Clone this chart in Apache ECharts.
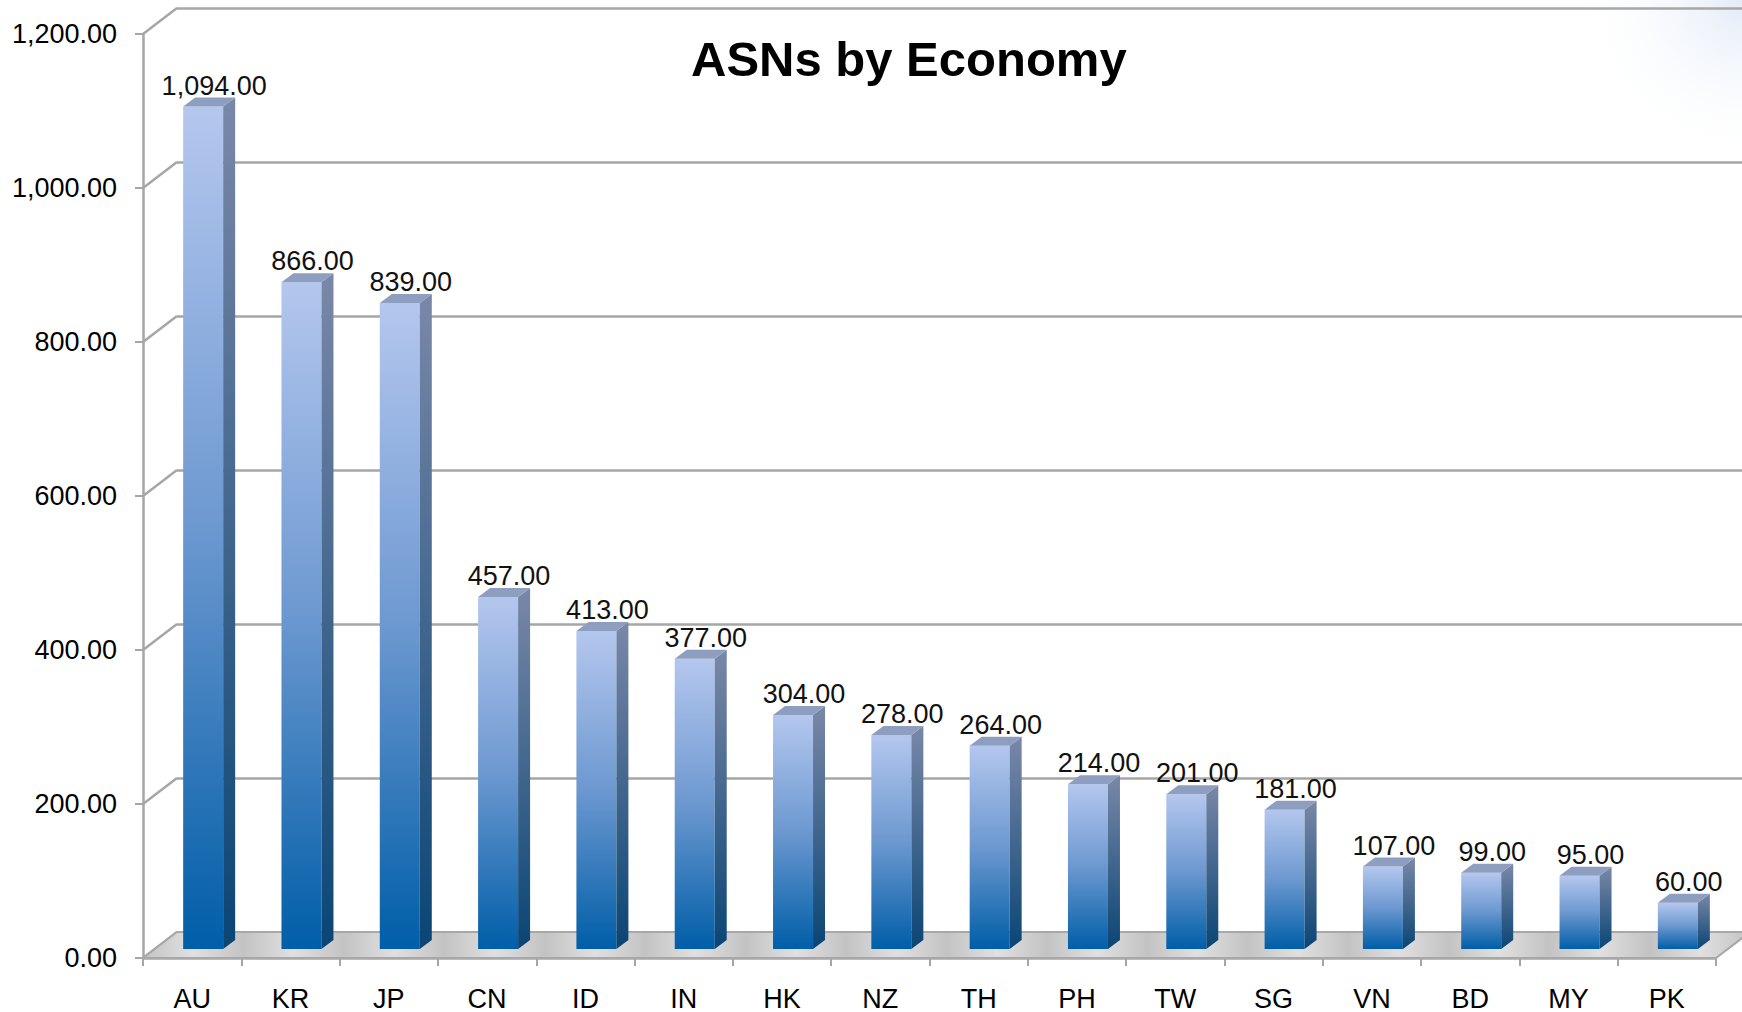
<!DOCTYPE html>
<html>
<head>
<meta charset="utf-8">
<title>ASNs by Economy</title>
<script src="https://cdn.jsdelivr.net/npm/echarts@6/dist/echarts.min.js"></script>
<style>
  html, body { margin: 0; padding: 0; background: #fff; }
  #chart { width: 1742px; height: 1012px; }
</style>
</head>
<body>
<div id="chart"></div>
<script>
var economies = ["AU", "KR", "JP", "CN", "ID", "IN", "HK", "NZ", "TH", "PH", "TW", "SG", "VN", "BD", "MY", "PK"];
var asnCounts = [1094, 866, 839, 457, 413, 377, 304, 278, 264, 214, 201, 181, 107, 99, 95, 60];
var yTicks = [0, 200, 400, 600, 800, 1000, 1200];

var FONT = "'Liberation Sans', Arial, sans-serif";
var GRID_GRAY = "#a6a6a6";
// 3D look: back wall offset, bar position inside the floor, bar depth
var WALL_DX = 34, WALL_DY = -26;
var BAR_DX = 11, BAR_DY = -9;
var BAR_W = 40, DEPTH_X = 12, DEPTH_Y = -9;

function fmt(v) {
  return v.toFixed(2).replace(/\B(?=(\d{3})+(?!\d))/g, ",");
}

function floorFill() {
  var stops = [];
  for (var k = 0; k <= 32; k++) {
    stops.push({ offset: k / 32, color: k % 2 ? "#e0e0e0" : "#c3c3c3" });
  }
  return new echarts.graphic.LinearGradient(0, 0, 1, 0, stops);
}

var chart = echarts.init(document.getElementById("chart"), null, { renderer: "svg" });

var option = {
  backgroundColor: "#ffffff",
  animation: false,
  title: {
    text: "ASNs by Economy",
    left: 686,
    top: 29,
    textStyle: { fontFamily: FONT, fontSize: 49, fontWeight: "bold", color: "#000" }
  },
  graphic: [
    {
      type: "circle",
      z: -10,
      shape: { cx: 1742, cy: 0, r: 170 },
      style: {
        fill: new echarts.graphic.RadialGradient(0.5, 0.5, 0.5, [
          { offset: 0, color: "rgba(220,230,246,0.8)" },
          { offset: 1, color: "rgba(255,255,255,0)" }
        ])
      }
    }
  ],
  grid: [
    { left: 143, right: 26, top: 34, bottom: 54 },
    { left: 177, right: 0, top: 8, bottom: 80 }
  ],
  xAxis: [
    {
      type: "category",
      gridIndex: 0,
      data: economies,
      axisLine: { lineStyle: { color: GRID_GRAY, width: 2.5 } },
      axisTick: { show: true, length: 8, interval: 0, lineStyle: { color: GRID_GRAY, width: 2 } },
      axisLabel: { margin: 27, interval: 0, fontFamily: FONT, fontSize: 27, color: "#000" }
    },
    { type: "value", gridIndex: 1, show: false, min: 0, max: 1 }
  ],
  yAxis: [
    {
      type: "value",
      gridIndex: 0,
      min: 0,
      max: 1200,
      interval: 200,
      axisLine: { show: true, lineStyle: { color: GRID_GRAY, width: 2.5 } },
      axisTick: { show: true, length: 8, lineStyle: { color: GRID_GRAY, width: 2 } },
      splitLine: { show: false },
      axisLabel: { margin: 26, fontFamily: FONT, fontSize: 27, color: "#000", formatter: fmt }
    },
    {
      type: "value",
      gridIndex: 1,
      min: 0,
      max: 1200,
      interval: 200,
      axisLine: { show: false },
      axisTick: { show: false },
      axisLabel: { show: false },
      splitLine: { show: true, lineStyle: { color: GRID_GRAY, width: 2.5 } }
    }
  ],
  series: [
    {
      // connectors from the front axis to the back wall
      type: "custom",
      xAxisIndex: 0,
      yAxisIndex: 0,
      z: 1,
      data: yTicks.map(function (v) { return [0, v]; }),
      renderItem: function (params, api) {
        var p = api.coord([0, api.value(1)]);
        var x0 = p[0] - api.size([1, 0])[0] / 2;
        return {
          type: "line",
          shape: { x1: x0, y1: p[1], x2: x0 + WALL_DX, y2: p[1] + WALL_DY },
          style: { stroke: GRID_GRAY, lineWidth: 2.5 }
        };
      }
    },
    {
      // floor
      type: "custom",
      xAxisIndex: 0,
      yAxisIndex: 0,
      z: 2,
      data: [[0, 0]],
      renderItem: function (params, api) {
        var half = api.size([1, 0])[0] / 2;
        var a = api.coord([0, 0]);
        var b = api.coord([economies.length - 1, 0]);
        var xL = a[0] - half, xR = b[0] + half, y = a[1];
        return {
          type: "polygon",
          shape: { points: [[xL, y], [xR, y], [xR + WALL_DX, y + WALL_DY], [xL + WALL_DX, y + WALL_DY]] },
          style: { fill: floorFill(), stroke: "#a8a8a8", lineWidth: 2 }
        };
      }
    },
    {
      // bars
      type: "custom",
      name: "ASNs",
      xAxisIndex: 0,
      yAxisIndex: 0,
      z: 3,
      data: asnCounts.map(function (v, i) { return [i, v]; }),
      renderItem: function (params, api) {
        var v = api.value(1);
        var base = api.coord([api.value(0), 0]);
        var top = api.coord([api.value(0), v]);
        var cx = base[0] + BAR_DX;
        var x1 = cx - BAR_W / 2, x2 = cx + BAR_W / 2;
        var yb = base[1] + BAR_DY, yt = top[1] + BAR_DY;
        return {
          type: "group",
          children: [
            {
              type: "rect",
              shape: { x: x1, y: yt, width: BAR_W, height: yb - yt },
              style: {
                fill: new echarts.graphic.LinearGradient(0, 0, 0, 1, [
                  { offset: 0, color: "#b4c7ee" },
                  { offset: 0.5, color: "#6c98d0" },
                  { offset: 1, color: "#005ea8" }
                ])
              }
            },
            {
              type: "polygon",
              shape: { points: [[x2, yt], [x2 + DEPTH_X, yt + DEPTH_Y], [x2 + DEPTH_X, yb + DEPTH_Y], [x2, yb]] },
              style: {
                fill: new echarts.graphic.LinearGradient(0, 0, 0, 1, [
                  { offset: 0, color: "#7a88a8" },
                  { offset: 1, color: "#0a4574" }
                ])
              }
            },
            {
              type: "polygon",
              shape: { points: [[x1, yt], [x2, yt], [x2 + DEPTH_X, yt + DEPTH_Y], [x1 + DEPTH_X, yt + DEPTH_Y]] },
              style: { fill: "#8e9ec0" }
            },
            {
              type: "text",
              x: cx + 11,
              y: yt - 21,
              style: {
                text: fmt(v),
                align: "center",
                verticalAlign: "middle",
                fontFamily: FONT,
                fontSize: 27,
                fill: "#111"
              }
            }
          ]
        };
      }
    }
  ]
};

chart.setOption(option);
window.addEventListener("resize", function () { chart.resize(); });
</script>
</body>
</html>
